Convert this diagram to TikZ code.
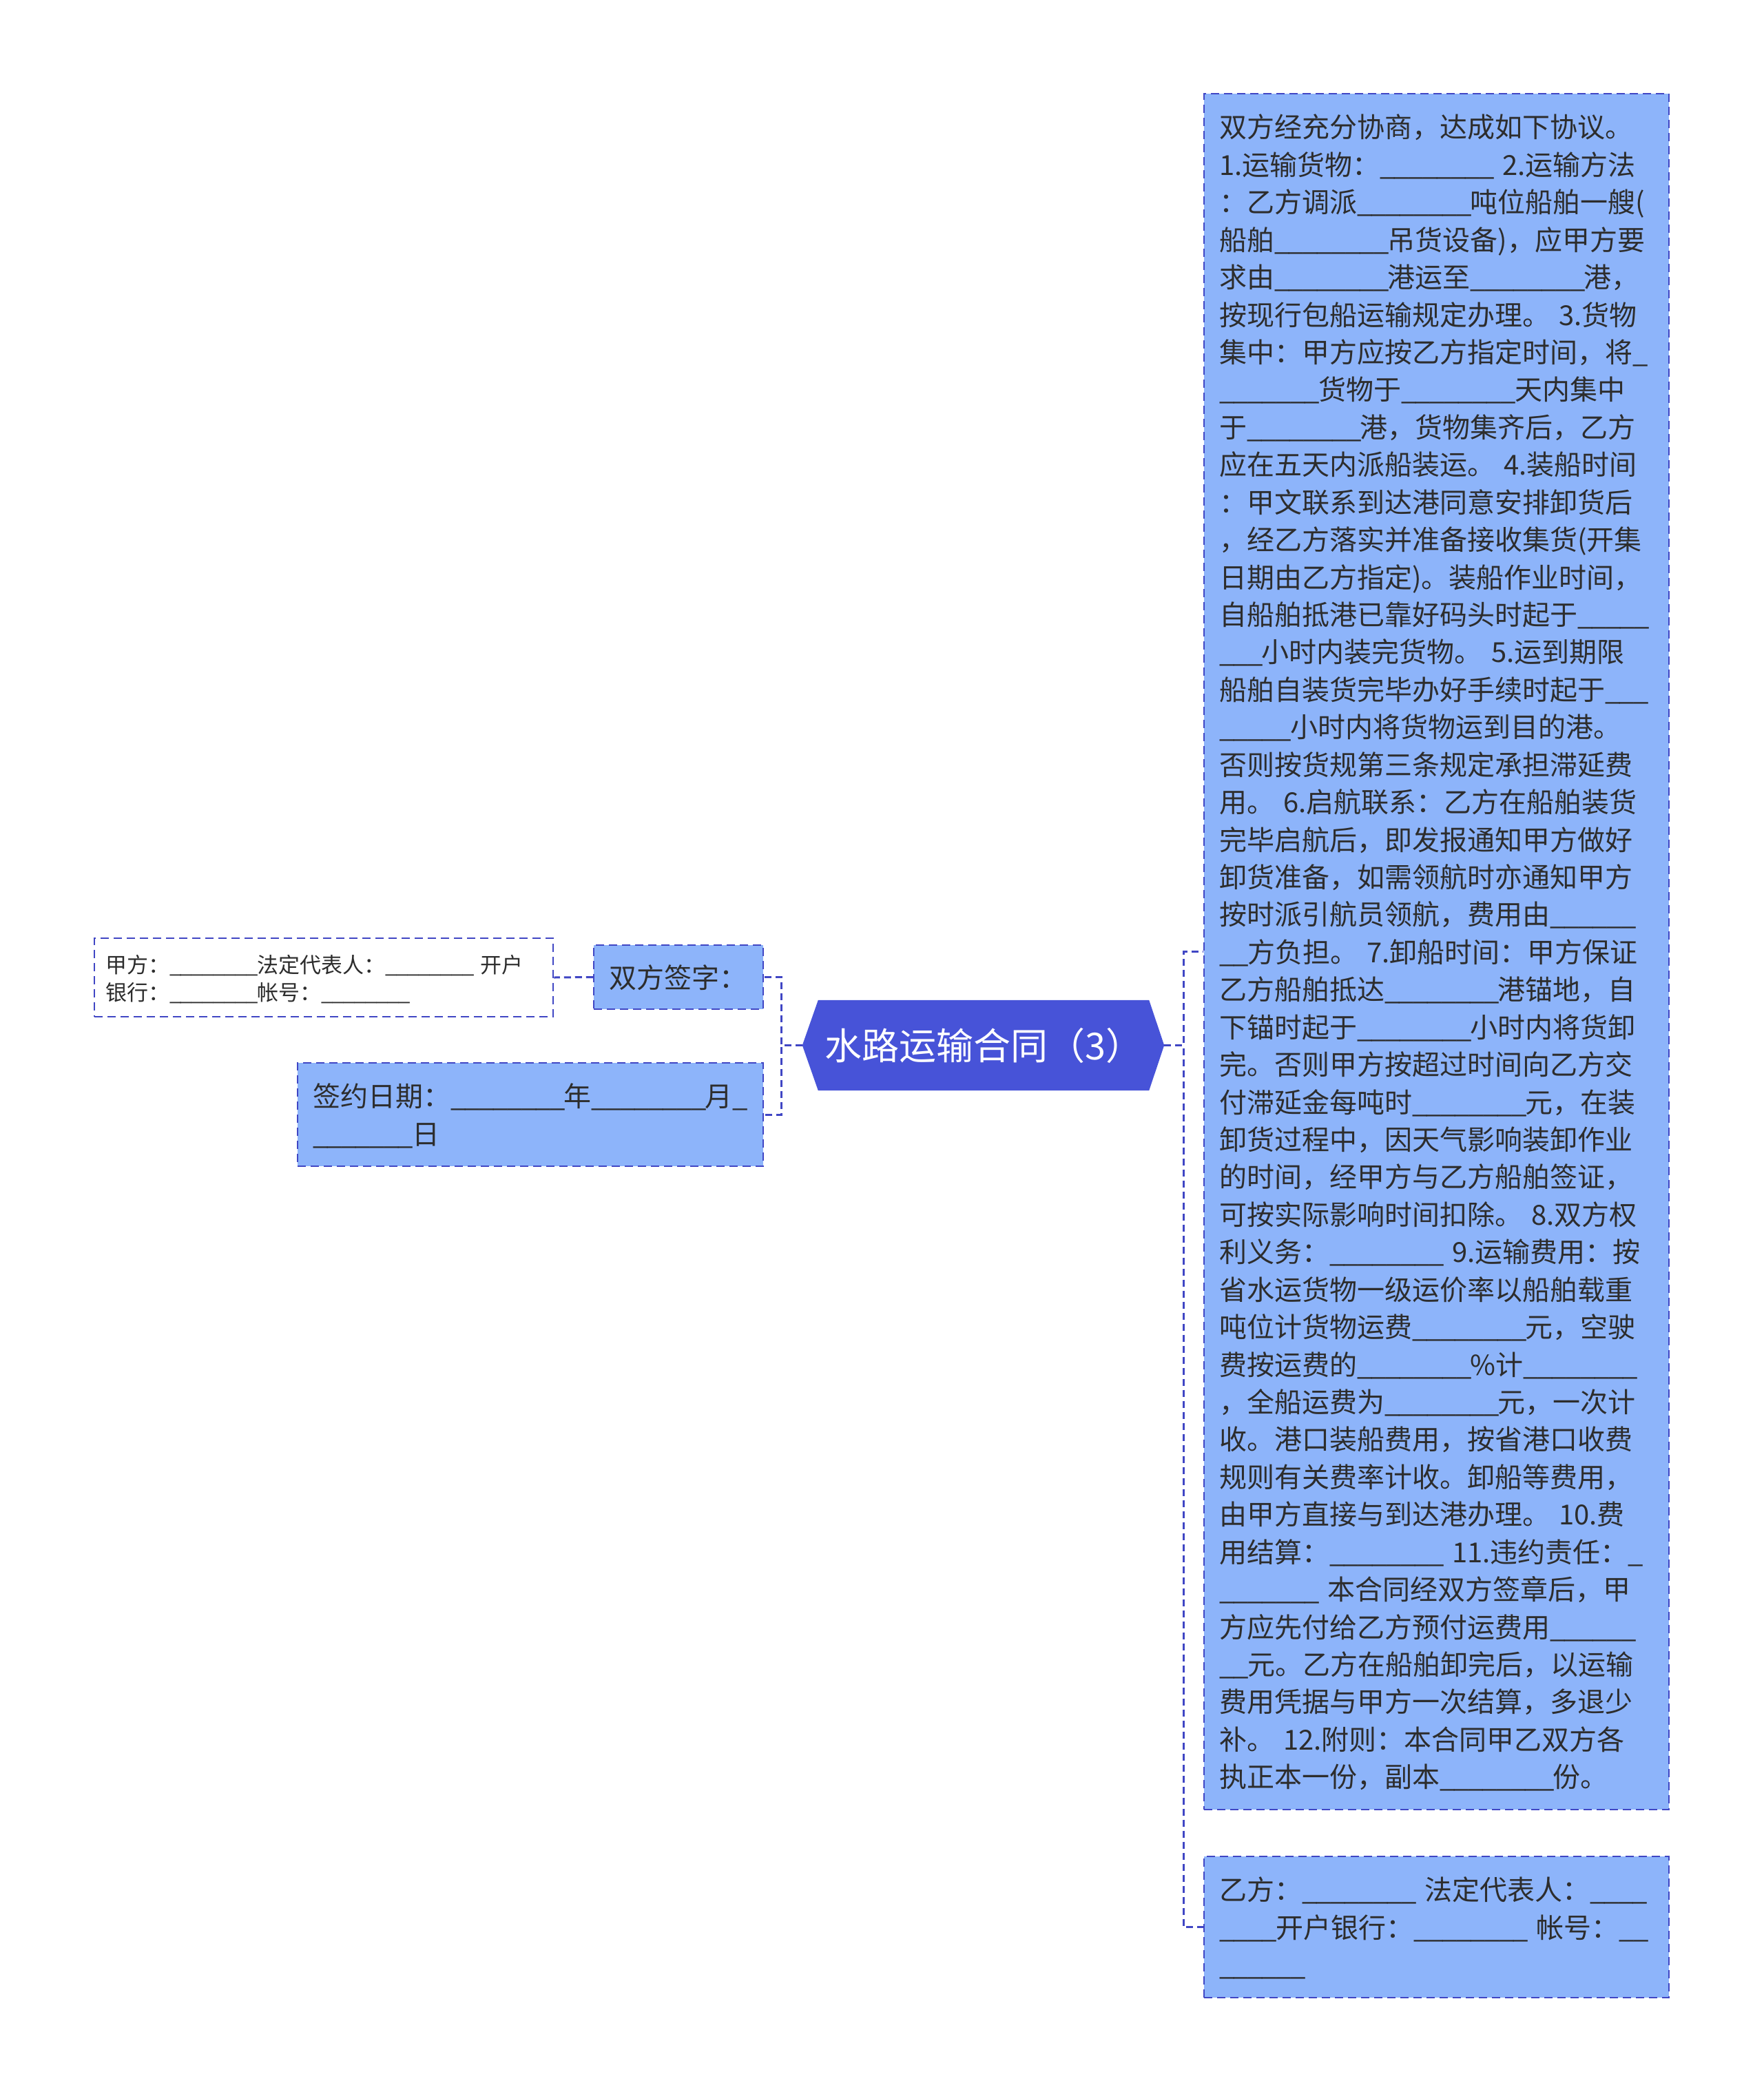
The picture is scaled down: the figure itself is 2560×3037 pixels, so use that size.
\documentclass[tikz,border=0pt]{standalone}
\usepackage{fontspec}
\setmainfont{Noto Sans CJK SC}
\usetikzlibrary{backgrounds}
\definecolor{boxfill}{HTML}{8DB4FA}
\definecolor{boxline}{HTML}{4046C4}
\definecolor{mainfill}{HTML}{4753D8}
\definecolor{txt}{HTML}{2D2D2D}
\newcommand\us{\makebox[0.515em][l]{\_}}
\newcommand\ueight{\us\us\us\us\us\us\us\us}
\newcommand\tst{\rule{0pt}{\dimexpr0.7\baselineskip+10pt\relax}}
\tikzset{
  box/.style={rectangle, draw=boxline, line width=2.5pt, dash pattern=on 12pt off 7pt,
    fill=boxfill, inner xsep=22pt, inner ysep=0pt, align=left, text=txt, anchor=center},
  bigtext/.style={font=\fontsize{40}{54.43}\selectfont},
  conn/.style={draw=boxline, line width=3pt, dash pattern=on 10pt off 6pt},
}
\begin{document}
\begin{tikzpicture}[x=1pt,y=-1pt]
\useasboundingbox (0,0) rectangle (2560,3037);

% central topic
\node[font=\fontsize{54}{60}\selectfont, text=white, minimum width=480pt, minimum height=131pt, inner sep=0pt] (C) at (1428,1517.5) {水路运输合同（3）};
\coordinate (cR) at ([xshift=22pt]C.east);
\coordinate (cL) at ([xshift=-23pt]C.west);

% right side
\node[box, bigtext, minimum width=675pt, minimum height=2491pt, text width=631pt] (R1) at (2085.5,1381.5) {\tst 双方经充分协商，达成如下协议。\\
1.运输货物：\ueight~2.运输方法\\
：乙方调派\ueight 吨位船舶一艘(\\
船舶\ueight 吊货设备)，应甲方要\\
求由\ueight 港运至\ueight 港，\\
按现行包船运输规定办理。~3.货物\\
集中：甲方应按乙方指定时间，将\us\\
\us\us\us\us\us\us\us 货物于\ueight 天内集中\\
于\ueight 港，货物集齐后，乙方\\
应在五天内派船装运。~4.装船时间\\
：甲文联系到达港同意安排卸货后\\
，经乙方落实并准备接收集货(开集\\
日期由乙方指定)。装船作业时间，\\
自船舶抵港已靠好码头时起于\us\us\us\us\us\\
\us\us\us 小时内装完货物。~5.运到期限\\
船舶自装货完毕办好手续时起于\us\us\us\\
\us\us\us\us\us 小时内将货物运到目的港。\\
否则按货规第三条规定承担滞延费\\
用。~6.启航联系：乙方在船舶装货\\
完毕启航后，即发报通知甲方做好\\
卸货准备，如需领航时亦通知甲方\\
按时派引航员领航，费用由\us\us\us\us\us\us\\
\us\us 方负担。~7.卸船时间：甲方保证\\
乙方船舶抵达\ueight 港锚地，自\\
下锚时起于\ueight 小时内将货卸\\
完。否则甲方按超过时间向乙方交\\
付滞延金每吨时\ueight 元，在装\\
卸货过程中，因天气影响装卸作业\\
的时间，经甲方与乙方船舶签证，\\
可按实际影响时间扣除。~8.双方权\\
利义务：\ueight~9.运输费用：按\\
省水运货物一级运价率以船舶载重\\
吨位计货物运费\ueight 元，空驶\\
费按运费的\ueight\%计\ueight\\
，全船运费为\ueight 元，一次计\\
收。港口装船费用，按省港口收费\\
规则有关费率计收。卸船等费用，\\
由甲方直接与到达港办理。~10.费\\
用结算：\ueight~11.违约责任：\us\\
\us\us\us\us\us\us\us~本合同经双方签章后，甲\\
方应先付给乙方预付运费用\us\us\us\us\us\us\\
\us\us 元。乙方在船舶卸完后，以运输\\
费用凭据与甲方一次结算，多退少\\
补。~12.附则：本合同甲乙双方各\\
执正本一份，副本\ueight 份。\strut};

\node[box, bigtext, minimum width=675pt, minimum height=205pt, text width=631pt] (R2) at (2085.5,2797.5) {\tst 乙方：\ueight~法定代表人：\us\us\us\us\\
\us\us\us\us 开户银行：\ueight~帐号：\us\us\\
\us\us\us\us\us\us\strut};

% left side
\node[box, bigtext, minimum width=246pt, minimum height=93pt, text width=202pt] (L1) at (985,1418.5) {\tst 双方签字：\strut};

\node[box, bigtext, minimum width=676pt, minimum height=150pt, text width=632pt] (L2) at (770,1618) {\tst 签约日期：\ueight 年\ueight 月\us\\
\us\us\us\us\us\us\us 日\strut};

\node[box, fill=white, font=\fontsize{31}{40}\selectfont, inner xsep=16pt, minimum width=666pt, minimum height=114pt, text width=634pt] (L1a) at (470,1419) {\tst 甲方：\ueight 法定代表人：\ueight~开户\\
银行：\ueight 帐号：\ueight\strut};

% connectors
\draw[conn] (cR) -- ++(28,0) |- (R1.west);
\draw[conn] (cR) -- ++(28,0) |- (R2.west);
\draw[conn] (cL) -- ++(-30,0) |- (L1.east);
\draw[conn] (cL) -- ++(-30,0) |- (L2.east);
\draw[conn] (L1.west) -- (L1a.east);

\begin{scope}[on background layer]
  \fill[white] (0,0) rectangle (2560,3037);
  \fill[mainfill] (C.north west) -- (C.north east) -- (cR) -- (C.south east) -- (C.south west) -- (cL) -- cycle;
\end{scope}
\end{tikzpicture}
\end{document}
